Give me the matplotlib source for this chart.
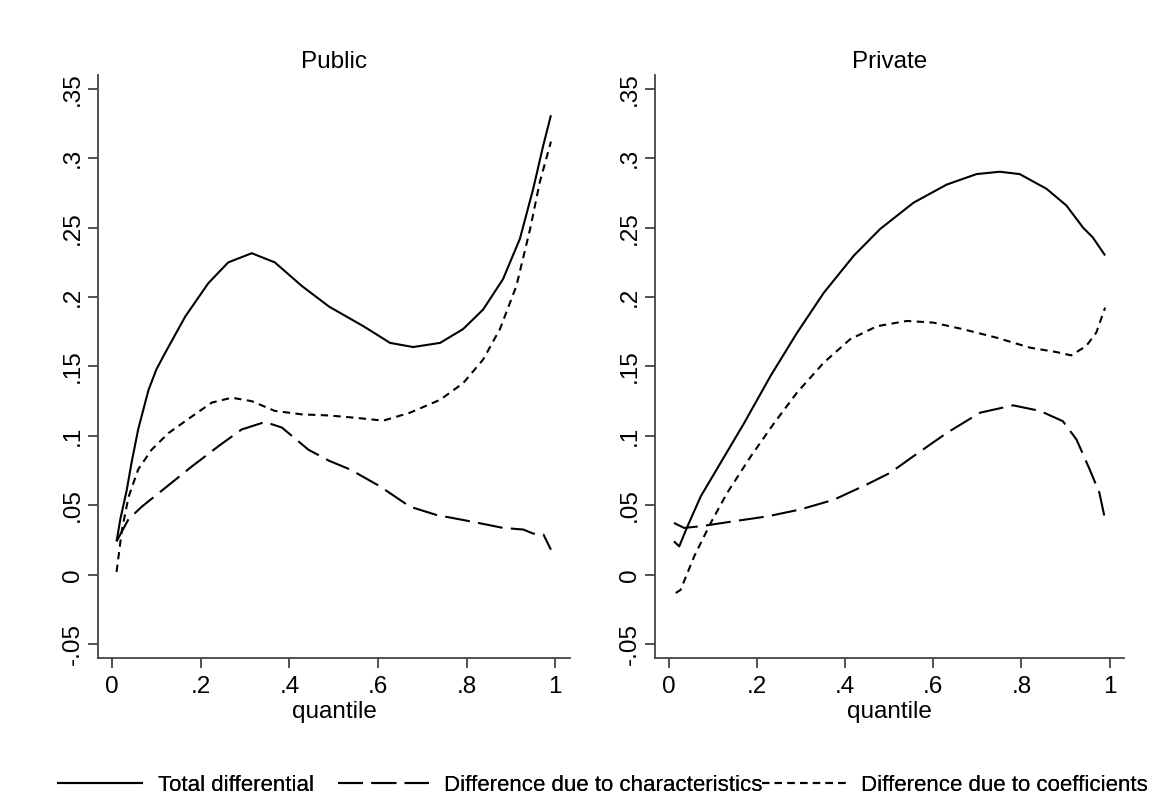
"""
Quantile decomposition of the wage differential, public vs private.
Two panels in Stata-like style, legend along the bottom.
"""

import matplotlib
matplotlib.use('Agg')
import matplotlib.pyplot as plt
from matplotlib.ticker import FixedLocator, FixedFormatter

# data
PANELS = ['Public', 'Private']

pub_total_q = [0.01, 0.0185, 0.033, 0.044, 0.059, 0.082, 0.10, 0.12, 0.165, 0.217, 0.262, 0.315, 0.367,
               0.428, 0.49, 0.567, 0.627, 0.679, 0.74, 0.792, 0.837, 0.882, 0.92, 0.95, 0.9725, 0.99]
pub_total_v = [0.024, 0.040, 0.061, 0.081, 0.105, 0.133, 0.148, 0.160, 0.186, 0.210, 0.225, 0.2316, 0.225,
               0.208, 0.193, 0.179, 0.167, 0.164, 0.167, 0.177, 0.191, 0.213, 0.242, 0.278, 0.309, 0.331]

pub_char_q = [0.01, 0.037, 0.067, 0.12, 0.18, 0.24, 0.292, 0.345, 0.383, 0.443, 0.49, 0.537,
              0.604, 0.672, 0.732, 0.807, 0.882, 0.928, 0.95, 0.973, 0.99]
pub_char_v = [0.024, 0.040, 0.049, 0.0626, 0.078, 0.0926, 0.1046, 0.110, 0.106, 0.090, 0.082, 0.0758,
              0.0637, 0.049, 0.043, 0.0385, 0.0337, 0.0325, 0.0296, 0.029, 0.018]

pub_coef_q = [0.01, 0.022, 0.037, 0.059, 0.089, 0.127, 0.18, 0.225, 0.27, 0.315, 0.367, 0.428,
              0.49, 0.55, 0.612, 0.672, 0.74, 0.792, 0.837, 0.875, 0.912, 0.943, 0.965, 0.984, 0.99]
pub_coef_v = [0.002, 0.032, 0.056, 0.076, 0.090, 0.102, 0.114, 0.124, 0.1275, 0.125, 0.118, 0.1155,
              0.1147, 0.113, 0.111, 0.1167, 0.126, 0.138, 0.155, 0.177, 0.208, 0.249, 0.283, 0.305, 0.312]

priv_total_q = [0.011, 0.023, 0.042, 0.072, 0.117, 0.17, 0.23, 0.29, 0.351, 0.419, 0.479, 0.555,
                0.63, 0.698, 0.751, 0.796, 0.857, 0.902, 0.94, 0.962, 0.99]
priv_total_v = [0.024, 0.0204, 0.035, 0.0565, 0.0806, 0.109, 0.143, 0.174, 0.203, 0.2297, 0.249, 0.268,
                0.281, 0.2886, 0.2903, 0.2886, 0.278, 0.266, 0.250, 0.243, 0.230]

priv_char_q = [0.011, 0.034, 0.072, 0.147, 0.223, 0.298, 0.374, 0.449, 0.502, 0.555, 0.63, 0.706,
               0.781, 0.842, 0.894, 0.925, 0.955, 0.977, 0.99]
priv_char_v = [0.0373, 0.0337, 0.0349, 0.0385, 0.042, 0.047, 0.054, 0.065, 0.0734, 0.0854, 0.102, 0.1167,
               0.122, 0.118, 0.1106, 0.0974, 0.0758, 0.059, 0.0397]

priv_coef_q = [0.015, 0.026, 0.057, 0.094, 0.132, 0.185, 0.238, 0.29, 0.351, 0.411, 0.472, 0.54,
               0.60, 0.668, 0.743, 0.819, 0.879, 0.913, 0.947, 0.97, 0.99]
priv_coef_v = [-0.0132, -0.011, 0.0132, 0.037, 0.059, 0.085, 0.109, 0.131, 0.1527, 0.1696, 0.179, 0.1828,
               0.1816, 0.1768, 0.1708, 0.1636, 0.1604, 0.158, 0.1647, 0.1744, 0.1924]

SERIES_LABELS = ['Total differential', 'Difference due to characteristics',
                 'Difference due to coefficients']

X_TICKS = [0, 0.2, 0.4, 0.6, 0.8, 1]
X_TICK_LABELS = ['0', '.2', '.4', '.6', '.8', '1']
Y_TICKS = [-0.05, 0, 0.05, 0.1, 0.15, 0.2, 0.25, 0.3, 0.35]
Y_TICK_LABELS = ['-.05', '0', '.05', '.1', '.15', '.2', '.25', '.3', '.35']

# style
plt.rcParams['font.family'] = ['Liberation Sans', 'DejaVu Sans']
FONT_SIZE = 17.5
LEGEND_SIZE = 16.0
LW = 1.5
STYLES = [
    dict(color='black', lw=LW, linestyle='-'),
    dict(color='black', lw=LW, linestyle=(0, (12, 4))),
    dict(color='black', lw=LW, linestyle=(0, (3.5, 2.6))),
]
# left edge of each legend entry (figure fraction) and its handle length
LEGEND_X = [0.049, 0.2926, 0.660]
LEGEND_HANDLE = [3.9, 4.1, 3.8]


def draw_panel(ax, title, series):
    lines = []
    for (q, v), st in zip(series, STYLES):
        ln, = ax.plot(q, v, solid_capstyle='butt', dash_capstyle='butt',
                      solid_joinstyle='round', **st)
        lines.append(ln)
    ax.set_xlim(-0.032, 1.033)
    ax.set_ylim(-0.06, 0.36)
    ax.xaxis.set_major_locator(FixedLocator(X_TICKS))
    ax.xaxis.set_major_formatter(FixedFormatter(X_TICK_LABELS))
    ax.yaxis.set_major_locator(FixedLocator(Y_TICKS))
    ax.yaxis.set_major_formatter(FixedFormatter(Y_TICK_LABELS))
    ax.tick_params(axis='both', direction='out', length=7, width=1.1,
                   labelsize=FONT_SIZE, color='#222222')
    ax.tick_params(axis='x', pad=6)
    ax.tick_params(axis='y', pad=3)
    for lab in ax.get_yticklabels():
        lab.set_rotation(90)
        lab.set_va('center')
    for side in ['top', 'right']:
        ax.spines[side].set_visible(False)
    for side in ['left', 'bottom']:
        ax.spines[side].set_color('#444444')
        ax.spines[side].set_linewidth(1.3)
    ax.set_xlabel('quantile', fontsize=FONT_SIZE, labelpad=2)
    ax.set_title(title, fontsize=FONT_SIZE, pad=5)
    return lines


fig = plt.figure(figsize=(11.55, 7.96), dpi=100)
ax_pub = fig.add_axes([0.0848, 0.1734, 0.4087, 0.7324])
ax_priv = fig.add_axes([0.5671, 0.1734, 0.4061, 0.7324])

lines = draw_panel(ax_pub, PANELS[0],
                   [(pub_total_q, pub_total_v), (pub_char_q, pub_char_v), (pub_coef_q, pub_coef_v)])
draw_panel(ax_priv, PANELS[1],
           [(priv_total_q, priv_total_v), (priv_char_q, priv_char_v), (priv_coef_q, priv_coef_v)])

# one legend per entry so the entries sit where Stata put them
for ln, label, x0, hl in zip(lines, SERIES_LABELS, LEGEND_X, LEGEND_HANDLE):
    leg = fig.legend([ln], [label], loc='center left', bbox_to_anchor=(x0, 0.013),
                     frameon=False, fontsize=LEGEND_SIZE, handlelength=hl,
                     handletextpad=0.65, borderpad=0, borderaxespad=0)
    fig.add_artist(leg)

fig.savefig('out.png', dpi=100)
